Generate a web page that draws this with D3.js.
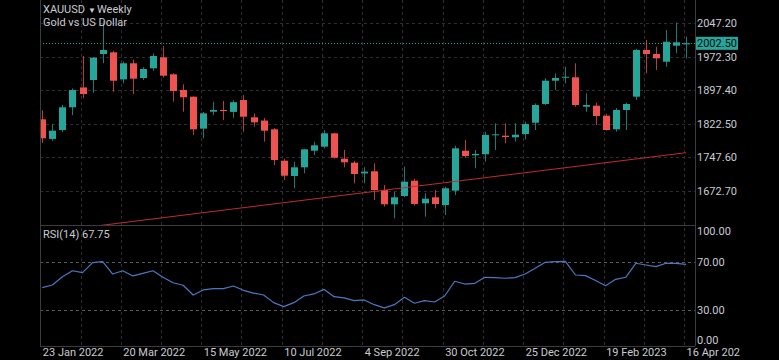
<!DOCTYPE html>
<html lang="en">
<head>
<meta charset="UTF-8">
<title>XAUUSD Weekly</title>
<script src="https://d3js.org/d3.v7.min.js"></script>
<style>
  body { margin: 0; background: #000; }
  svg { display: block; font-family: Roboto, "Noto Sans", sans-serif; }
</style>
</head>
<body>
<svg width="779" height="360"></svg>
<script>
    // weekly candles, 23 Jan 2022 .. 16 Apr 2023
    const opens  = [1832.8,1789,1808.9,1859.6,1904,1920.6,1978.6,1982.4,1922,1957.9,
                    1925,1946.7,1971.2,1933.3,1898.2,1883.3,1812,1849.8,1853.6,1849.3,
                    1875.9,1837.3,1830,1810.5,1740.4,1706.2,1725.6,1762.7,1771.7,1801.5,
                    1744.8,1736,1712,1716.7,1674.9,1643,1661.5,1695.7,1645.2,1658.6,
                    1641.4,1673.4,1762.7,1752.5,1754.7,1797.1,1796.2,1792.6,1800,1825.2,
                    1867,1919,1925.7,1926.6,1860.9,1863.2,1840.9,1810.5,1853.6,1883.3,
                    1987.6,1978.6,1961.4,1997.2,2001.5];
    const highs  = [1853,1822,1865,1902,1974,1972,2052,1986,1962,1966,
                    1949,1980.2,1996.5,1936,1911,1884,1849,1872,1873.7,1875,
                    1887,1846,1836,1813,1745,1738,1767,1782.8,1808.9,1803,
                    1764.3,1740,1725.6,1734.6,1686.1,1671,1727,1700,1667.6,1675,
                    1682,1774,1786.6,1764.3,1805.1,1823.9,1823.9,1823.9,1827.5,1868,
                    1924.4,1935.5,1950.3,1957.9,1890.9,1870,1845,1858,1870,1990,
                    2009.9,1995,2032.2,2048.5,2017.3];
    const lows   = [1780,1785,1804,1842,1879.7,1892,1958,1894.5,1913,1889.3,
                    1920.6,1941,1926,1872.1,1849.8,1797.8,1790.4,1842,1831.2,1836,
                    1805,1816.3,1782.8,1730.8,1697.3,1678.7,1712.2,1753.1,1768,1745,
                    1725.6,1689.9,1690,1652.6,1637.6,1611.7,1659,1640,1615.3,1634,
                    1619.1,1663.8,1747,1723.4,1738.1,1764.3,1779.2,1782.8,1788.1,1808.9,
                    1865,1898.2,1913.2,1861,1849.8,1820.1,1808,1805.1,1808.9,1875.9,
                    1935.5,1943,1950.3,1980.2,1969];
    const closes = [1790.4,1807.4,1859.6,1898.2,1889.3,1970.4,1987.6,1919,1957.9,1923.5,
                    1945.1,1974.2,1930.2,1896,1882,1810.5,1846.2,1853.6,1851.3,1871,
                    1838.6,1826.1,1807.4,1741.9,1706.9,1725.6,1765.8,1774.8,1801.5,1747.1,
                    1736.8,1710.7,1716,1674.9,1643,1658.6,1693.5,1643.7,1655.5,1643.7,
                    1678.7,1768,1750.9,1755.5,1797.8,1799.3,1793.3,1798.4,1822.3,1864.7,
                    1919,1925,1927.9,1864.7,1864.7,1840.2,1808.9,1853.6,1867,1987.6,
                    1978.6,1969,2006.1,2004.8,2002.5];
    const rsi    = [48.5,50.7,57.6,62.5,60.9,69.2,70,59.8,62.5,58.2,
                    60.4,62.5,57.1,52.6,50.5,42.4,46.6,47.7,47.7,49.9,
                    46.3,44,42.4,36.1,32.8,36.1,41.6,43.3,47.1,41,
                    40,37.7,38.3,34.4,31.7,34.4,40.5,35.6,37.7,36.6,
                    41.6,53.8,51.5,52.1,57.1,56.8,56.3,56.8,59.8,64.5,
                    69.5,70,70.3,59,58.5,54.5,50.1,55.4,57.1,68.7,
                    67.3,65.9,68.7,68.7,67.75];

    const priceTicks = [1672.70, 1747.60, 1822.50, 1897.40, 1972.30, 2047.20];
    const rsiTicks = [0, 30, 70, 100];
    const rsiBands = [30, 70];
    const timeLabels = ["23 Jan 2022","20 Mar 2022","15 May 2022","10 Jul 2022","4 Sep 2022",
                        "30 Oct 2022","25 Dec 2022","19 Feb 2023","16 Apr 2023"];
    const lastPrice = 2002.50;
    const trendDates = [new Date(Date.UTC(2022,1,20)), new Date(Date.UTC(2023,3,16))];
    const trendPrices = [1590.8, 1758.2];

    const weeks = d3.utcWeek.range(new Date(Date.UTC(2022,0,23)), new Date(Date.UTC(2023,3,17)));

    const up = "#26a69a", down = "#ef5350";
    const textCol = "#c9cbd1", gridCol = "#2e2e2e";
    const left = 40, right = 695, paneSplit = 225, bottom = 346;

    const svg = d3.select("svg");

    const x = d3.scaleTime()
        .domain([weeks[0], weeks[weeks.length - 1]])
        .range([42.3, 686.1]);
    const y = d3.scaleLinear().domain([1672.7, 2047.2]).range([191, 23.3]);
    const yr = d3.scaleLinear().domain([0, 100]).range([346.2, 225.5]);

    const defs = svg.append("defs");
    defs.append("clipPath").attr("id", "main").append("rect")
        .attr("x", left).attr("y", 0).attr("width", right - left).attr("height", paneSplit);
    defs.append("clipPath").attr("id", "lower").append("rect")
        .attr("x", left).attr("y", paneSplit).attr("width", right - left).attr("height", bottom - paneSplit);
    defs.append("clipPath").attr("id", "timeaxis").append("rect")
        .attr("x", left).attr("y", bottom).attr("width", 740 - left).attr("height", 360 - bottom);

    // vertical grid, every 4 weeks
    svg.append("g").selectAll("line")
        .data(weeks.filter((d, i) => i % 4 === 0))
        .enter().append("line")
        .attr("x1", d => Math.round(x(d)) - 1.5).attr("x2", d => Math.round(x(d)) - 1.5)
        .attr("y1", 0).attr("y2", bottom)
        .attr("stroke", gridCol).attr("stroke-dasharray", "3,3");

    // horizontal grid in the price pane
    svg.append("g").selectAll("line")
        .data(priceTicks)
        .enter().append("line")
        .attr("x1", left).attr("x2", right)
        .attr("y1", d => Math.round(y(d)) + 0.5).attr("y2", d => Math.round(y(d)) + 0.5)
        .attr("stroke", gridCol).attr("stroke-dasharray", "3,3");

    // rsi bands
    svg.append("g").selectAll("line")
        .data(rsiBands)
        .enter().append("line")
        .attr("x1", left).attr("x2", right)
        .attr("y1", d => Math.round(yr(d)) + 0.5).attr("y2", d => Math.round(yr(d)) + 0.5)
        .attr("stroke", "#5a5a5a").attr("stroke-dasharray", "3,3");

    // current price line
    svg.append("line")
        .attr("x1", left).attr("x2", right)
        .attr("y1", Math.round(y(lastPrice)) + 0.5).attr("y2", Math.round(y(lastPrice)) + 0.5)
        .attr("stroke", up).attr("stroke-dasharray", "1,2");

    // candles
    const candles = d3.range(weeks.length).map(i => ({
        d: weeks[i], o: opens[i], h: highs[i], l: lows[i], c: closes[i]
    }));
    const cg = svg.append("g").attr("clip-path", "url(#main)");
    const g = cg.selectAll("g").data(candles).enter().append("g");
    g.append("line")
        .attr("x1", d => Math.round(x(d.d)) + 0.5).attr("x2", d => Math.round(x(d.d)) + 0.5)
        .attr("y1", d => y(d.h)).attr("y2", d => y(d.l))
        .attr("stroke", d => d.c >= d.o ? up : down)
        .attr("stroke-opacity", 0.75);
    g.append("rect")
        .attr("x", d => Math.round(x(d.d)) - 3)
        .attr("width", 7)
        .attr("y", d => y(Math.max(d.o, d.c)))
        .attr("height", d => Math.max(1, Math.abs(y(d.o) - y(d.c))))
        .attr("fill", d => d.c >= d.o ? up : down);

    // trend line
    cg.append("line")
        .attr("x1", x(trendDates[0])).attr("y1", y(trendPrices[0]))
        .attr("x2", x(trendDates[1])).attr("y2", y(trendPrices[1]))
        .attr("stroke", "#c42a2a").attr("stroke-width", 1);

    // rsi line
    svg.append("path")
        .attr("clip-path", "url(#lower)")
        .datum(rsi)
        .attr("fill", "none")
        .attr("stroke", "#4a78c2")
        .attr("stroke-width", 1.2)
        .attr("stroke-linejoin", "round")
        .attr("d", d3.line().x((d, i) => x(weeks[i])).y(d => yr(d)));

    // frame
    const frame = svg.append("g").attr("stroke", "#3c3c3c");
    frame.append("line").attr("x1", left + 0.5).attr("x2", left + 0.5).attr("y1", 0).attr("y2", bottom);
    frame.append("line").attr("x1", right + 0.5).attr("x2", right + 0.5).attr("y1", 0).attr("y2", bottom);
    frame.append("line").attr("x1", left).attr("x2", right).attr("y1", paneSplit + 0.5).attr("y2", paneSplit + 0.5);
    frame.append("line").attr("x1", left).attr("x2", right).attr("y1", bottom + 0.5).attr("y2", bottom + 0.5);

    // price axis
    svg.append("g").selectAll("text")
        .data(priceTicks)
        .enter().append("text")
        .attr("x", 697).attr("y", d => y(d)).attr("dy", "0.35em")
        .attr("fill", textCol).attr("font-size", 11)
        .text(d => d.toFixed(2));

    svg.append("rect")
        .attr("x", 696).attr("y", y(lastPrice) - 6.5).attr("width", 42).attr("height", 13)
        .attr("fill", up);
    svg.append("text")
        .attr("x", 697).attr("y", y(lastPrice)).attr("dy", "0.35em")
        .attr("fill", "#0b0b0b").attr("font-size", 11)
        .text(lastPrice.toFixed(2));

    // rsi axis
    svg.append("g").selectAll("text")
        .data(rsiTicks)
        .enter().append("text")
        .attr("x", 697)
        .attr("y", d => d === 100 ? 231.5 : d === 0 ? 340 : yr(d))
        .attr("dy", "0.35em")
        .attr("fill", textCol).attr("font-size", 11)
        .text(d => d.toFixed(2));

    // time axis
    svg.append("g").attr("clip-path", "url(#timeaxis)")
        .selectAll("text")
        .data(timeLabels)
        .enter().append("text")
        .attr("x", (d, i) => x(weeks[i * 8]) + 0.5)
        .attr("y", 356)
        .attr("fill", textCol).attr("font-size", 11)
        .text(d => d);

    // legends
    const lg = svg.append("g").attr("fill", textCol).attr("font-size", 11);
    lg.append("text").attr("x", 43).attr("y", 13).text("XAUUSD");
    lg.append("text").attr("x", 88).attr("y", 12.5).attr("font-size", 8).text("\u25BC");
    lg.append("text").attr("x", 97).attr("y", 13).text("Weekly");
    lg.append("text").attr("x", 43).attr("y", 25.5).text("Gold vs US Dollar");
    lg.append("text").attr("x", 43).attr("y", 238).text("RSI(14) " + rsi[rsi.length - 1].toFixed(2));
</script>
</body>
</html>
